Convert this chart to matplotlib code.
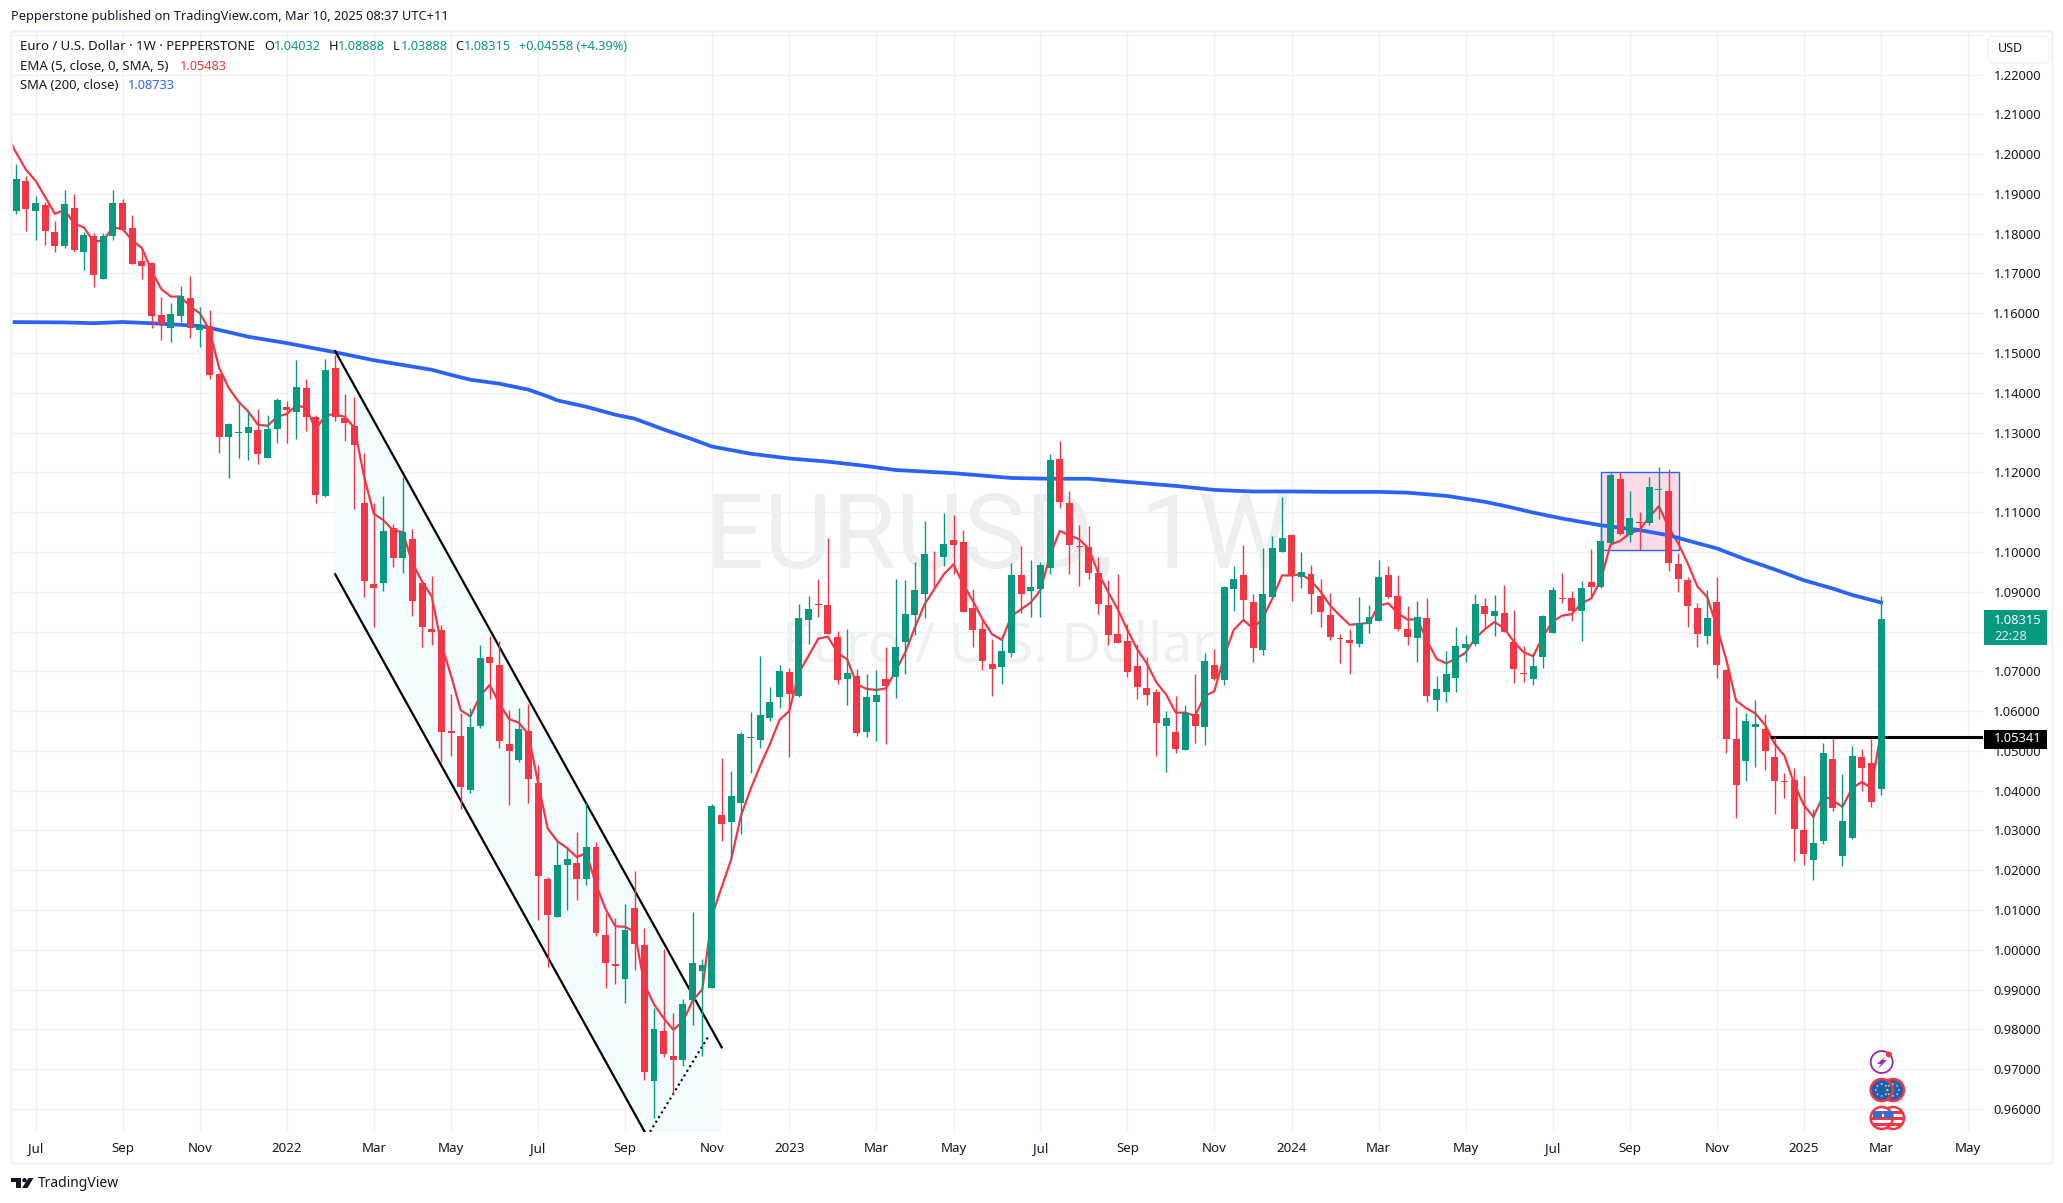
import matplotlib
matplotlib.use("Agg")
import matplotlib.pyplot as plt
from matplotlib.patches import Circle, FancyBboxPatch, Polygon, Rectangle
from matplotlib.transforms import IdentityTransform
import numpy as np

# weekly candles, oldest first
opens = [
    1.1856, 1.1933, 1.1858, 1.1873, 1.1805, 1.1768, 1.1865, 1.1755, 1.1795, 1.1687,
    1.1793, 1.1878, 1.1815, 1.1732, 1.1727, 1.1596, 1.1564, 1.1592, 1.1639, 1.1557,
    1.1568, 1.1448, 1.1288, 1.1298, 1.1300, 1.1307, 1.1235, 1.1308, 1.1365, 1.1353,
    1.1413, 1.1340, 1.1140, 1.1463, 1.1337, 1.1317, 1.1123, 1.0920, 1.0921, 1.1061,
    1.0986, 1.1032, 1.0923, 1.0807, 1.0804, 1.0551, 1.0538, 1.0401, 1.0562, 1.0736,
    1.0715, 1.0517, 1.0476, 1.0551, 1.0420, 1.0179, 1.0082, 1.0213, 1.0219, 1.0178,
    1.0259, 1.0038, 0.9965, 0.9927, 1.0104, 1.0013, 0.9671, 0.9795, 0.9732, 0.9723,
    0.9873, 0.9947, 0.9904, 1.0339, 1.0321, 1.0369, 1.0532, 1.0527, 1.0583, 1.0635,
    1.0698, 1.0638, 1.0829, 1.0868, 1.0866, 1.0785, 1.0681, 1.0687, 1.0547, 1.0623,
    1.0680, 1.0686, 1.0774, 1.0842, 1.0894, 1.0991, 1.0987, 1.1029, 1.1024, 1.0858,
    1.0806, 1.0718, 1.0711, 1.0746, 1.0941, 1.0902, 1.0907, 1.0960, 1.1233, 1.1122,
    1.1014, 1.1012, 1.0947, 1.0866, 1.0794, 1.0776, 1.0713, 1.0658, 1.0649, 1.0563,
    1.0548, 1.0503, 1.0593, 1.0561, 1.0716, 1.0678, 1.0908, 1.0942, 1.0874, 1.0754,
    1.0887, 1.1000, 1.1042, 1.0937, 1.0944, 1.0889, 1.0841, 1.0784, 1.0778, 1.0768,
    1.0819, 1.0826, 1.0942, 1.0889, 1.0806, 1.0784, 1.0834, 1.0628, 1.0648, 1.0683,
    1.0758, 1.0768, 1.0864, 1.0838, 1.0846, 1.0773, 1.0696, 1.0681, 1.0737, 1.0797,
    1.0884, 1.0884, 1.0852, 1.0924, 1.0913, 1.1022, 1.1183, 1.1043, 1.1075, 1.1073,
    1.1156, 1.1153, 1.0970, 1.0929, 1.0859, 1.0789, 1.0874, 1.0703, 1.0530, 1.0474,
    1.0561, 1.0555, 1.0484, 1.0424, 1.0427, 1.0301, 1.0226, 1.0274, 1.0480, 1.0236,
    1.0282, 1.0484, 1.0469, 1.04032]
highs = [
    1.1976, 1.1946, 1.1895, 1.1879, 1.1832, 1.1910, 1.1900, 1.1805, 1.1801, 1.1801,
    1.1910, 1.1888, 1.1847, 1.1764, 1.1730, 1.1641, 1.1626, 1.1669, 1.1694, 1.1616,
    1.1609, 1.1450, 1.1324, 1.1380, 1.1355, 1.1360, 1.1345, 1.1387, 1.1380, 1.1483,
    1.1435, 1.1345, 1.1485, 1.1496, 1.1397, 1.1390, 1.1249, 1.1122, 1.1140, 1.1071,
    1.1189, 1.1058, 1.0925, 1.0939, 1.0816, 1.0643, 1.0596, 1.0607, 1.0766, 1.0789,
    1.0775, 1.0603, 1.0608, 1.0619, 1.0465, 1.0183, 1.0279, 1.0257, 1.0297, 1.0369,
    1.0270, 1.0093, 1.0081, 1.0116, 1.0198, 1.0054, 0.9854, 1.0002, 0.9841, 0.9876,
    1.0096, 0.9977, 1.0366, 1.0482, 1.0449, 1.0547, 1.0598, 1.0739, 1.0661, 1.0716,
    1.0708, 1.0868, 1.0889, 1.0931, 1.1034, 1.0801, 1.0806, 1.0705, 1.0692, 1.0703,
    1.0760, 1.0931, 1.0929, 1.0974, 1.1077, 1.1002, 1.1097, 1.1092, 1.1054, 1.0906,
    1.0831, 1.0780, 1.0780, 1.0972, 1.1014, 1.0979, 1.0974, 1.1246, 1.1278, 1.1153,
    1.1067, 1.1065, 1.0988, 1.0929, 1.0944, 1.0820, 1.0768, 1.0736, 1.0655, 1.0601,
    1.0639, 1.0616, 1.0693, 1.0746, 1.0756, 1.0915, 1.0965, 1.1017, 1.0894, 1.1010,
    1.1040, 1.1138, 1.1045, 1.1000, 1.0967, 1.0932, 1.0897, 1.0794, 1.0806, 1.0887,
    1.0866, 1.0980, 1.0965, 1.0942, 1.0864, 1.0877, 1.0884, 1.0688, 1.0751, 1.0811,
    1.0791, 1.0894, 1.0884, 1.0891, 1.0916, 1.0853, 1.0763, 1.0745, 1.0841, 1.0912,
    1.0947, 1.0902, 1.0927, 1.1007, 1.1072, 1.1198, 1.1200, 1.1153, 1.1100, 1.1188,
    1.1213, 1.1208, 1.0997, 1.0937, 1.0872, 1.0904, 1.0937, 1.0705, 1.0610, 1.0595,
    1.0628, 1.0592, 1.0535, 1.0444, 1.0457, 1.0437, 1.0354, 1.0520, 1.0532, 1.0442,
    1.0512, 1.0504, 1.0530, 1.08888]
lows = [
    1.1850, 1.1807, 1.1783, 1.1772, 1.1753, 1.1765, 1.1755, 1.1708, 1.1665, 1.1687,
    1.1785, 1.1806, 1.1725, 1.1685, 1.1564, 1.1532, 1.1527, 1.1577, 1.1537, 1.1514,
    1.1434, 1.1250, 1.1187, 1.1237, 1.1230, 1.1222, 1.1235, 1.1275, 1.1273, 1.1285,
    1.1303, 1.1122, 1.1138, 1.1330, 1.1280, 1.1108, 1.0888, 1.0811, 1.0903, 1.0963,
    1.0948, 1.0840, 1.0760, 1.0765, 1.0471, 1.0487, 1.0353, 1.0393, 1.0557, 1.0631,
    1.0508, 1.0364, 1.0471, 1.0369, 1.0074, 0.9956, 1.0082, 1.0100, 1.0125, 1.0163,
    1.0034, 0.9904, 0.9914, 0.9867, 0.9949, 0.9673, 0.9577, 0.9731, 0.9636, 0.9708,
    0.9810, 0.9732, 0.9904, 1.0273, 1.0228, 1.0291, 1.0444, 1.0507, 1.0575, 1.0608,
    1.0485, 1.0636, 1.0769, 1.0836, 1.0794, 1.0667, 1.0615, 1.0537, 1.0535, 1.0525,
    1.0517, 1.0633, 1.0693, 1.0791, 1.0834, 1.0910, 1.0965, 1.0945, 1.0849, 1.0761,
    1.0703, 1.0638, 1.0668, 1.0736, 1.0847, 1.0837, 1.0837, 1.0945, 1.1111, 1.0945,
    1.0915, 1.0931, 1.0845, 1.0767, 1.0772, 1.0686, 1.0631, 1.0615, 1.0488, 1.0447,
    1.0495, 1.0503, 1.0520, 1.0515, 1.0678, 1.0665, 1.0852, 1.0829, 1.0723, 1.0741,
    1.0887, 1.1000, 1.0877, 1.0909, 1.0844, 1.0811, 1.0778, 1.0721, 1.0693, 1.0761,
    1.0796, 1.0826, 1.0885, 1.0801, 1.0766, 1.0723, 1.0623, 1.0600, 1.0623, 1.0648,
    1.0723, 1.0763, 1.0808, 1.0790, 1.0798, 1.0670, 1.0672, 1.0666, 1.0709, 1.0797,
    1.0872, 1.0826, 1.0777, 1.0884, 1.0909, 1.1022, 1.1042, 1.1026, 1.1004, 1.1068,
    1.1083, 1.0952, 1.0899, 1.0811, 1.0761, 1.0768, 1.0684, 1.0494, 1.0332, 1.0425,
    1.0460, 1.0452, 1.0342, 1.0382, 1.0224, 1.0214, 1.0176, 1.0267, 1.0349, 1.0211,
    1.0279, 1.0400, 1.0360, 1.03888]
closes = [
    1.1938, 1.1863, 1.1878, 1.1806, 1.1768, 1.1875, 1.1760, 1.1797, 1.1697, 1.1795,
    1.1878, 1.1810, 1.1725, 1.1720, 1.1592, 1.1573, 1.1599, 1.1644, 1.1562, 1.1567,
    1.1444, 1.1290, 1.1322, 1.1302, 1.1315, 1.1245, 1.1310, 1.1382, 1.1357, 1.1415,
    1.1340, 1.1144, 1.1458, 1.1340, 1.1323, 1.1268, 1.0926, 1.0910, 1.1053, 1.0986,
    1.1049, 1.0876, 1.0811, 1.0798, 1.0547, 1.0544, 1.0409, 1.0561, 1.0734, 1.0720,
    1.0524, 1.0499, 1.0556, 1.0429, 1.0186, 1.0087, 1.0214, 1.0229, 1.0178, 1.0259,
    1.0042, 0.9967, 0.9959, 1.0050, 1.0014, 0.9692, 0.9800, 0.9739, 0.9723, 0.9865,
    0.9968, 0.9962, 1.0361, 1.0316, 1.0387, 1.0542, 1.0535, 1.0590, 1.0623, 1.0701,
    1.0643, 1.0833, 1.0856, 1.0866, 1.0794, 1.0678, 1.0695, 1.0545, 1.0635, 1.0640,
    1.0663, 1.0760, 1.0843, 1.0904, 1.0994, 1.0989, 1.1019, 1.1018, 1.0849, 1.0804,
    1.0726, 1.0706, 1.0750, 1.0941, 1.0894, 1.0911, 1.0966, 1.1230, 1.1126, 1.1018,
    1.1012, 1.0947, 1.0870, 1.0792, 1.0772, 1.0699, 1.0661, 1.0640, 1.0571, 1.0583,
    1.0505, 1.0596, 1.0563, 1.0726, 1.0680, 1.0912, 1.0932, 1.0880, 1.0758, 1.0894,
    1.1010, 1.1035, 1.0939, 1.0949, 1.0894, 1.0849, 1.0786, 1.0782, 1.0771, 1.0821,
    1.0836, 1.0937, 1.0887, 1.0806, 1.0786, 1.0836, 1.0638, 1.0655, 1.0693, 1.0763,
    1.0768, 1.0869, 1.0844, 1.0851, 1.0800, 1.0705, 1.0694, 1.0713, 1.0839, 1.0904,
    1.0882, 1.0851, 1.0909, 1.0912, 1.1027, 1.1193, 1.1045, 1.1085, 1.1073, 1.1163,
    1.1158, 1.0972, 1.0933, 1.0865, 1.0794, 1.0834, 1.0716, 1.0530, 1.0415, 1.0575,
    1.0567, 1.0500, 1.0425, 1.0422, 1.0304, 1.0241, 1.0268, 1.0494, 1.0357, 1.0323,
    1.0487, 1.0458, 1.0372, 1.08315]

# EMA 5, one value per week, starts one week before the first candle
ema = [
    1.2049,
    1.2003, 1.1961, 1.1933, 1.1892, 1.1850, 1.1860, 1.1825, 1.1816, 1.1780, 1.1783,
    1.1816, 1.1812, 1.1783, 1.1764, 1.1707, 1.1661, 1.1642, 1.1642, 1.1617, 1.1600,
    1.1558, 1.1462, 1.1412, 1.1378, 1.1353, 1.1320, 1.1317, 1.1340, 1.1347, 1.1368,
    1.1363, 1.1307, 1.1345, 1.1345, 1.1340, 1.1312, 1.1189, 1.1096, 1.1080, 1.1054,
    1.1050, 1.0971, 1.0926, 1.0888, 1.0768, 1.0689, 1.0602, 1.0587, 1.0638, 1.0666,
    1.0619, 1.0580, 1.0571, 1.0542, 1.0420, 1.0305, 1.0273, 1.0256, 1.0233, 1.0243,
    1.0164, 1.0102, 1.0059, 1.0058, 1.0045, 0.9914, 0.9863, 0.9828, 0.9799, 0.9820,
    0.9872, 0.9901, 1.0086, 1.0157, 1.0228, 1.0337, 1.0404, 1.0463, 1.0517, 1.0578,
    1.0600, 1.0697, 1.0739, 1.0782, 1.0787, 1.0747, 1.0730, 1.0667, 1.0656, 1.0653,
    1.0657, 1.0701, 1.0747, 1.0810, 1.0868, 1.0906, 1.0944, 1.0969, 1.0919, 1.0877,
    1.0831, 1.0793, 1.0779, 1.0839, 1.0856, 1.0873, 1.0904, 1.0992, 1.1053, 1.1042,
    1.1032, 1.1008, 1.0946, 1.0900, 1.0856, 1.0804, 1.0756, 1.0720, 1.0672, 1.0642,
    1.0596, 1.0596, 1.0588, 1.0638, 1.0650, 1.0737, 1.0804, 1.0829, 1.0808, 1.0833,
    1.0883, 1.0941, 1.0941, 1.0944, 1.0928, 1.0900, 1.0865, 1.0840, 1.0817, 1.0819,
    1.0822, 1.0865, 1.0871, 1.0846, 1.0830, 1.0831, 1.0778, 1.0731, 1.0720, 1.0732,
    1.0747, 1.0783, 1.0806, 1.0824, 1.0808, 1.0774, 1.0748, 1.0738, 1.0787, 1.0825,
    1.0840, 1.0844, 1.0871, 1.0883, 1.0930, 1.1019, 1.1028, 1.1047, 1.1055, 1.1087,
    1.1115, 1.1063, 1.1022, 1.0971, 1.0913, 1.0887, 1.0812, 1.0728, 1.0626, 1.0608,
    1.0594, 1.0565, 1.0517, 1.0488, 1.0418, 1.0364, 1.0334, 1.0387, 1.0376, 1.0359,
    1.0406, 1.0422, 1.0407, 1.05483]

# SMA 200, read at the bends only
sma_weeks = [-1, 5, 8, 11, 14, 19, 21, 24, 28, 33, 37, 40, 43, 45, 47, 50, 53, 55, 56, 59,
             62, 64, 67, 70, 72, 76, 80, 84, 88, 91, 97, 103, 107, 111, 115, 120, 124, 128,
             132, 136, 141, 144, 148, 152, 154, 157, 160, 164, 168, 171, 174, 176, 179,
             182, 185, 188, 190, 193]
sma = [1.1578, 1.1577, 1.1575, 1.1578, 1.1575, 1.1568, 1.1558, 1.1541, 1.1525, 1.1502,
       1.1482, 1.1470, 1.1458, 1.1445, 1.1433, 1.1423, 1.1408, 1.1391, 1.1381, 1.1365,
       1.1345, 1.1335, 1.1308, 1.1283, 1.1265, 1.1247, 1.1235, 1.1227, 1.1216, 1.1206,
       1.1198, 1.1186, 1.1184, 1.1184, 1.1176, 1.1166, 1.1156, 1.1152, 1.1152, 1.1151,
       1.1151, 1.1149, 1.1141, 1.1126, 1.1116, 1.1099, 1.1084, 1.1067, 1.1055, 1.1042,
       1.1022, 1.1009, 1.0981, 1.0956, 1.0929, 1.0908, 1.0892, 1.0873]

# axis ticks
time_ticks = [2, 11, 19, 28, 37, 45, 54, 63, 72, 80, 89, 97, 106, 115, 124, 132, 141, 150,
              159, 167, 176, 185, 193, 202]
time_labels = ['Jul', 'Sep', 'Nov', '2022', 'Mar', 'May', 'Jul', 'Sep', 'Nov', '2023', 'Mar',
               'May', 'Jul', 'Sep', 'Nov', '2024', 'Mar', 'May', 'Jul', 'Sep', 'Nov', '2025',
               'Mar', 'May']
price_ticks = [0.96, 0.97, 0.98, 0.99, 1.00, 1.01, 1.02, 1.03, 1.04, 1.05, 1.06, 1.07, 1.08,
               1.09, 1.10, 1.11, 1.12, 1.13, 1.14, 1.15, 1.16, 1.17, 1.18, 1.19, 1.20, 1.21,
               1.22, 1.23]
# 1.08 sits behind the last price tag and 1.23 is above the scale, no label for them
price_unlabelled = [1.08, 1.23]

# drawings on the chart
channel_top_x = [33, 73]
channel_top_y = [1.1505, 0.9755]
channel_low_x = [33, 65.3]
channel_low_y = [1.0944, 0.9531]
dotted_x = [65.3, 71.7]
dotted_y = [0.9531, 0.9785]
box_x = [164.05, 172.05]
box_y = [1.1004, 1.12]
level_x = [181.5, 203.55]
level_price = 1.05341

# constants
W, H = 2063, 1203
up_color = '#089981'
down_color = '#f23645'
sma_color = '#2962ff'
grid_color = '#f0f1f4'
frame_color = '#f0f3fa'
text_color = '#131722'
font_name = 'Noto Sans'
matplotlib.rcParams.update({'font.family': font_name})

fig = plt.figure(figsize=(W / 100, H / 100), dpi=100)
ax = fig.add_axes([12 / W, 1 - 1132 / H, (1983 - 12) / W, (1132 - 32) / H])
ax.set_xlim(-0.445, 203.55)
ax.set_ylim(0.9542, 1.2307)
pix = IdentityTransform()


def px(x, y):
    return x, H - y


# grid and ticks
ax.set_axisbelow(True)
ax.grid(True, color=grid_color, linewidth=1)
for side in ax.spines.values():
    side.set_visible(False)
ax.yaxis.tick_right()
ax.set_xticks(time_ticks)
ax.set_xticklabels(time_labels, fontsize=9.6, color=text_color)
ax.set_yticks(price_ticks)
ax.set_yticklabels(['' if p in price_unlabelled else '%.5f' % p for p in price_ticks], fontsize=9.3,
                   color=text_color, ha='right')
ax.tick_params(axis='x', length=0, pad=7.2)
ax.tick_params(axis='y', length=0, pad=41.8)
for label in ax.get_xticklabels():
    if label.get_text().startswith('20'):
        label.set_fontweight('bold')

# watermark
ax.text(998, H - 567, 'EURUSD, 1W', transform=pix, fontsize=75, color='#eceef0', ha='center',
        va='baseline', zorder=0.1, fontfamily='Roboto')
ax.text(998, H - 662, 'Euro / U.S. Dollar', transform=pix, fontsize=39, color='#eef0f2',
        ha='center', va='baseline', zorder=0.1)

# channel shading and the pink box
ax.fill([channel_top_x[0], channel_top_x[1], channel_top_x[1], channel_low_x[1], channel_low_x[0]],
        [channel_top_y[0], channel_top_y[1], channel_low_y[1], channel_low_y[1], channel_low_y[0]],
        color='#f2fbfd', linewidth=0, zorder=1)
ax.add_patch(Rectangle((box_x[0], box_y[0]), box_x[1] - box_x[0], box_y[1] - box_y[0],
                       facecolor='#fadbe6', edgecolor=sma_color, linewidth=1, zorder=1.2))

# moving averages, channel and level sit under the candles
weeks = np.arange(len(closes))
ax.plot(np.arange(-1, len(closes)), ema, color=down_color, linewidth=1.6, zorder=2)
ax.plot(sma_weeks, sma, color=sma_color, linewidth=2.7, zorder=2.1)
ax.plot(channel_top_x, channel_top_y, color='black', linewidth=1.6, zorder=2.2)
ax.plot(channel_low_x, channel_low_y, color='black', linewidth=1.6, zorder=2.2)
ax.plot(dotted_x, dotted_y, color='black', linewidth=1.5, linestyle=(0, (1, 1.6)), zorder=2.2)
ax.plot(level_x, [level_price, level_price], color='black', linewidth=2.2, zorder=2.2,
        solid_capstyle='butt')

# candles
opens_a = np.array(opens)
closes_a = np.array(closes)
colors = [up_color if c >= o else down_color for o, c in zip(opens, closes)]
ax.vlines(weeks, lows, highs, colors=colors, linewidth=1.0, zorder=3)
ax.bar(weeks, np.abs(closes_a - opens_a), bottom=np.minimum(opens_a, closes_a), width=0.72,
       color=colors, linewidth=0, zorder=3.1)

# header and legend
fig.text(*px(11, 16.5), 'Pepperstone published on TradingView.com, Mar 10, 2025 08:37 UTC+11',
         transform=pix, fontsize=9.2, color=text_color, va='center')
legend_rows = [
    (20, 47, 'Euro / U.S. Dollar · 1W · PEPPERSTONE', text_color, 9.5),
    (264, 47, 'O', text_color, 9.2), (273.7, 47, '1.04032', up_color, 9.2),
    (328.6, 47, 'H', text_color, 9.2), (338, 47, '1.08888', up_color, 9.2),
    (393, 47, 'L', text_color, 9.2), (400.5, 47, '1.03888', up_color, 9.2),
    (455, 47, 'C', text_color, 9.2), (464, 47, '1.08315', up_color, 9.2),
    (519, 47, '+0.04558 (+4.39%)', up_color, 9.2),
    (20, 66.7, 'EMA (5, close, 0, SMA, 5)', text_color, 9.5), (179.5, 66.7, '1.05483', down_color, 9.2),
    (20, 85.7, 'SMA (200, close)', text_color, 9.3), (128, 85.7, '1.08733', sma_color, 9.2),
]
for x, y, s, c, size in legend_rows:
    fig.text(*px(x, y), s, transform=pix, fontsize=size, color=c, va='center')

# frame around chart and price scale
fig.add_artist(Rectangle(px(11, 1163), 2041, 1132, fill=False, edgecolor=frame_color,
                         linewidth=1.8, transform=pix, zorder=0.5))

# currency button
fig.add_artist(FancyBboxPatch(px(1991, 60), 55, 21, boxstyle='round,pad=3,rounding_size=5',
                              facecolor='white', edgecolor=frame_color, linewidth=1,
                              transform=pix, zorder=1))
fig.text(*px(1998, 49), 'USD', transform=pix, fontsize=9, color=text_color, va='center', zorder=3)

# price tags
fig.add_artist(Rectangle(px(1984, 645), 63, 35, facecolor=up_color, linewidth=0, transform=pix,
                         zorder=2))
fig.text(*px(1994, 620), '1.08315', transform=pix, fontsize=9.3, color='white', va='center',
         zorder=3)
fig.text(*px(1994, 636.5), '22:28', transform=pix, fontsize=9.3, color='#d2efe9', va='center',
         zorder=3)
fig.add_artist(Rectangle(px(1984, 748.5), 63, 19, facecolor='black', linewidth=0, transform=pix,
                         zorder=2))
fig.text(*px(1994, 738.5), '1.05341', transform=pix, fontsize=9.3, color='white', va='center',
         fontweight='bold', zorder=3)

# event icons
fig.add_artist(Circle(px(1881.7, 1062), 11, facecolor='white', edgecolor='#9c27b0', linewidth=1.3,
                      transform=pix, zorder=2))
fig.add_artist(Polygon([px(1886, 1056), px(1877, 1064), px(1881, 1064), px(1878, 1069),
                        px(1887, 1060), px(1883, 1060)], facecolor='#9c27b0', linewidth=0,
                       transform=pix, zorder=2.1))
fig.add_artist(Circle(px(1889, 1054.5), 3, facecolor=down_color, linewidth=0, transform=pix,
                      zorder=2.2))
for cx in (1893, 1881.7):
    fig.add_artist(Circle(px(cx, 1090), 11, facecolor='#1b5fb4', edgecolor=down_color,
                          linewidth=1.8, transform=pix, zorder=2))
    for a in np.arange(0, 360, 45):
        fig.add_artist(Circle(px(cx + 6 * np.cos(np.radians(a)), 1090 + 6 * np.sin(np.radians(a))),
                              0.9, facecolor='#ffd54f', linewidth=0, transform=pix, zorder=2.1))
for cx in (1893, 1881.7):
    disc = Circle(px(cx, 1118), 11, facecolor='white', edgecolor=down_color, linewidth=1.8,
                  transform=pix, zorder=2)
    fig.add_artist(disc)
    for top in (1111, 1117, 1123):
        stripe = Rectangle(px(cx - 11, top + 3), 22, 3, facecolor=down_color, linewidth=0,
                           transform=pix, zorder=2.1)
        fig.add_artist(stripe)
        stripe.set_clip_path(disc)
    canton = Rectangle(px(cx - 9, 1118), 9, 7, facecolor='#2f6fd0', linewidth=0, transform=pix,
                       zorder=2.2)
    fig.add_artist(canton)
    canton.set_clip_path(disc)

# TradingView logo
logo = '#131722'
fig.add_artist(Polygon([px(11, 1178), px(21, 1178), px(21, 1188), px(16, 1188), px(16, 1182),
                        px(11, 1182)], facecolor=logo, linewidth=0, transform=pix))
fig.add_artist(Circle(px(24.5, 1180.2), 2.2, facecolor=logo, linewidth=0, transform=pix))
fig.add_artist(Polygon([px(28.5, 1178), px(33.5, 1178), px(27.5, 1188), px(22, 1188)],
                       facecolor=logo, linewidth=0, transform=pix))
fig.text(*px(38, 1183.5), 'TradingView', transform=pix, fontsize=10, color=text_color, va='center')

plt.savefig('out.png', dpi=100)
